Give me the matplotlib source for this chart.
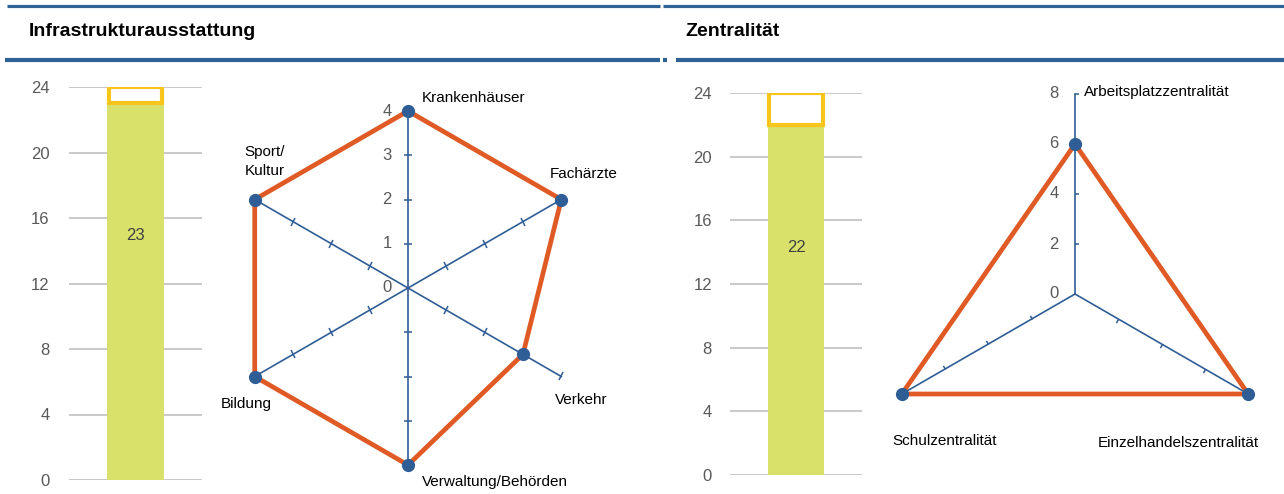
import matplotlib
matplotlib.use("Agg")
import matplotlib.pyplot as plt
import numpy as np
from matplotlib.lines import Line2D
from matplotlib.markers import MarkerStyle
from matplotlib.transforms import Affine2D

plt.rcParams['font.family'] = ['Liberation Sans', 'DejaVu Sans']

# data
infra_title = 'Infrastrukturausstattung'
infra_total = 23
infra_max = 24
infra_labels = ['Krankenhäuser', 'Fachärzte', 'Verkehr', 'Verwaltung/Behörden', 'Bildung', 'Sport/\nKultur']
infra_values = [4, 4, 3, 4, 4, 4]
infra_rticks = [0, 1, 2, 3, 4]

zent_title = 'Zentralität'
zent_total = 22
zent_max = 24
zent_labels = ['Arbeitsplatzzentralität', 'Einzelhandelszentralität', 'Schulzentralität']
zent_values = [6, 8, 8]
zent_rticks = [0, 2, 4, 6, 8]

bar_ticks = [0, 4, 8, 12, 16, 20, 24]

BLUE = '#2F5D95'
HEAD = '#2E6194'
ORANGE = '#E05A25'
GREEN = '#D9E16B'
YELLOW = '#F8C51C'
GRAY = '#595959'

W, H = 1284, 494
fig = plt.figure(figsize=(W / 100, H / 100), dpi=100)


def px_axes(left, top, right, bottom, **kw):
    return fig.add_axes([left / W, 1 - bottom / H, (right - left) / W, (bottom - top) / H], **kw)


def hline(x0, x1, y, lw):
    fig.add_artist(Line2D([x0 / W, x1 / W], [1 - y / H] * 2, color=HEAD, lw=lw,
                          solid_capstyle='butt'))


# header bands
hline(7, 660, 6.5, 2.3)
hline(5, 660, 60, 3.0)
hline(663, 1284, 6.5, 2.3)
hline(676, 1284, 60, 3.0)
hline(663, 667, 60, 3.0)
fig.text(29 / W, 1 - 32 / H, infra_title, fontsize=14, fontweight='bold', va='center')
fig.text(685 / W, 1 - 32 / H, zent_title, fontsize=14, fontweight='bold', va='center')


def bar_panel(ax, total, vmax, pad):
    ax.bar(0.5, total, width=0.43, color=GREEN, zorder=2)
    ax.bar(0.5, vmax - total, bottom=total, width=0.405, facecolor='white',
           edgecolor=YELLOW, lw=3, zorder=3)
    ax.text(0.5, total * 0.65, str(total), ha='center', va='center',
            fontsize=12, color='#404040', zorder=4)
    ax.set_xlim(0, 1)
    ax.set_ylim(0, vmax)
    ax.set_yticks(bar_ticks)
    ax.set_xticks([])
    ax.yaxis.grid(True, color='#C0C0C0', lw=1.2)
    ax.set_axisbelow(True)
    ax.tick_params(axis='y', length=0, pad=pad, labelsize=12, labelcolor=GRAY)
    for s in ax.spines.values():
        s.set_visible(False)


def radar(ax, labels, values, rmax, rticks, offsets, tick_ms, one_sided):
    n = len(labels)
    theta = np.arange(n) * 2 * np.pi / n
    ax.set_theta_offset(np.pi / 2)
    ax.set_theta_direction(-1)
    ax.set_ylim(0, rmax)
    ax.axis('off')
    for th in theta:
        ax.plot([th, th], [0, rmax], color=BLUE, lw=1.2, clip_on=False, zorder=1)
        phi = 90 - np.degrees(th)
        if one_sided:
            mk = MarkerStyle([(0, 0), (1, 0)], transform=Affine2D().rotate_deg(phi - 90))
        else:
            mk = MarkerStyle('_', transform=Affine2D().rotate_deg(phi + 90))
        ax.plot([th] * (len(rticks) - 1), rticks[1:], ls='none', marker=mk,
                ms=tick_ms, mew=1.1, color=BLUE, clip_on=False, zorder=1)
    ax.plot(np.append(theta, theta[0]), np.append(values, values[0]),
            color=ORANGE, lw=3.4, clip_on=False, zorder=3, solid_joinstyle='miter')
    ax.plot(theta, values, 'o', color=BLUE, ms=8.5, clip_on=False, zorder=4)
    for t in rticks:
        ax.annotate(str(t), xy=(0, t), xytext=(-15, 0), textcoords='offset points',
                    ha='center', va='center', fontsize=12, color=GRAY)
    for th, lab, (dx, dy, ha) in zip(theta, labels, offsets):
        ax.annotate(lab, xy=(th, rmax), xytext=(dx * 0.72, -dy * 0.72),
                    textcoords='offset points', ha=ha, va='center',
                    fontsize=11, linespacing=1.45, annotation_clip=False)


ax1 = px_axes(69, 87, 202, 480)
bar_panel(ax1, infra_total, infra_max, 14)

ax2 = px_axes(231, 111, 585, 465, projection='polar')
radar(ax2, infra_labels, infra_values, 4, infra_rticks,
      [(14, -13, 'left'), (22, -26, 'center'), (20, 24, 'center'),
       (14, 17, 'left'), (-8, 27, 'center'), (-10, -38, 'left')],
      6, False)

ax3 = px_axes(730, 93, 862, 475)
bar_panel(ax3, zent_total, zent_max, 13)

ax4 = px_axes(875, 94, 1275, 494, projection='polar')
radar(ax4, zent_labels, zent_values, 8, zent_rticks,
      [(9, -2, 'left'), (-70, 49, 'center'), (43, 47, 'center')],
      6, True)

fig.savefig('out.png', dpi=100)
